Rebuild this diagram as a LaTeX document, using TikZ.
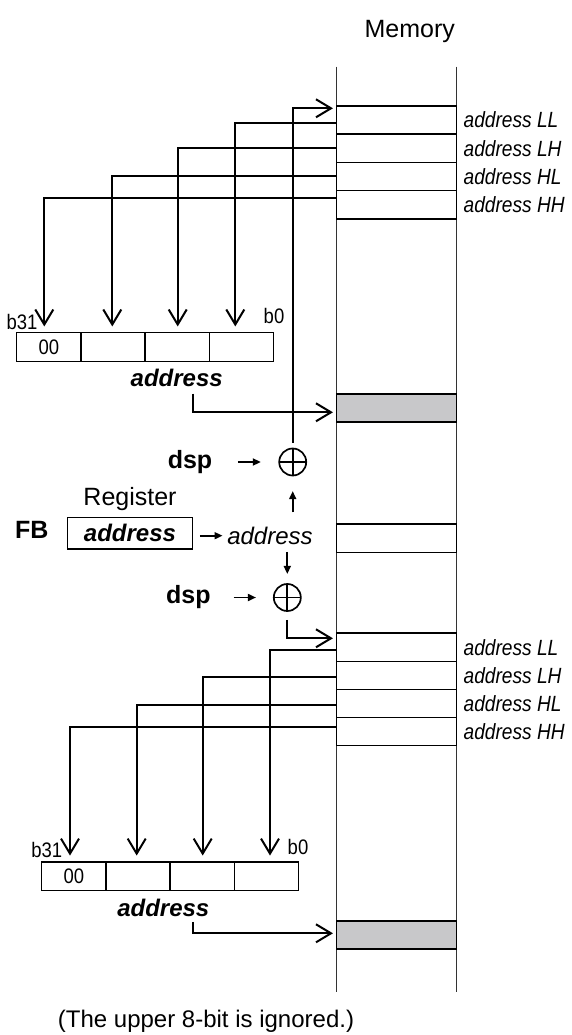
\documentclass[tikz,border=0pt]{standalone}
\usepackage{fontspec}
\setmainfont{Liberation Sans}
\usetikzlibrary{arrows.meta, positioning}

\definecolor{cellgrey}{RGB}{200,200,202}

\tikzset{
  colline/.style={line width=1.3pt, black!80},
  memcell/.style={draw, line width=1.5pt, minimum width=120pt, minimum height=28.2pt, inner sep=0pt},
  greycell/.style={memcell, fill=cellgrey},
  memlab/.style={inner sep=0pt, font=\fontsize{22}{26}\selectfont\itshape\addfontfeature{FakeStretch=0.87}},
  regcell/.style={draw, line width=1.3pt, minimum width=64.2pt, minimum height=28.6pt, inner sep=0pt,
    font=\fontsize{21}{25}\selectfont\addfontfeature{FakeStretch=0.88}},
  bitlab/.style={inner sep=0pt, font=\fontsize{21}{25}\selectfont\addfontfeature{FakeStretch=0.88}},
  plain/.style={inner sep=0pt, font=\fontsize{25}{30}\selectfont},
  boldlab/.style={inner sep=0pt, font=\fontsize{25}{30}\selectfont\bfseries},
  addrbold/.style={inner sep=0pt, font=\fontsize{24}{28}\selectfont\bfseries\itshape},
  addrital/.style={inner sep=0pt, font=\fontsize{24}{28}\selectfont\itshape},
  adder/.style={circle, draw, line width=1.7pt, minimum size=27pt, inner sep=0pt,
    path picture={\draw[line width=1.7pt] (path picture bounding box.north) -- (path picture bounding box.south)
      (path picture bounding box.west) -- (path picture bounding box.east);}},
  fetch/.style={line width=2pt, -{Straight Barb[length=15pt,width=18pt]}},
  tinyarrow/.style={line width=1.7pt, -{Triangle[length=8pt,width=7pt]}}
}

\begin{document}
\begin{tikzpicture}[x=1pt, y=-1pt]
    \useasboundingbox (0,0) rectangle (572,1035);

    % Memory column
    \node[plain] (memtitle) at (409.7,31.7) {Memory};
    \draw[colline] (336.7,66.7) -- (336.7,992);
    \draw[colline] (456.7,66.7) -- (456.7,992);

    % Memory cells, upper group
    \node[memcell] (mLLa) at (396.7,120) {};
    \node[memcell] (mLHa) at (396.7,148.2) {};
    \node[memcell] (mHLa) at (396.7,176.5) {};
    \node[memcell] (mHHa) at (396.7,204.8) {};
    \node[memlab, right=6pt of mLLa] (tLLa) {address LL};
    \node[memlab, right=6pt of mLHa] (tLHa) {address LH};
    \node[memlab, right=6pt of mHLa] (tHLa) {address HL};
    \node[memlab, right=6pt of mHHa] (tHHa) {address HH};
    \node[greycell] (gA) at (396.7,408) {};

    % Memory cell pointed to by FB
    \node[memcell] (mMid) at (396.7,538.3) {};

    % Memory cells, lower group
    \node[memcell] (mLLb) at (396.7,647.3) {};
    \node[memcell] (mLHb) at (396.7,675.4) {};
    \node[memcell] (mHLb) at (396.7,703.5) {};
    \node[memcell] (mHHb) at (396.7,731.6) {};
    \node[memlab, right=6pt of mLLb] (tLLb) {address LL};
    \node[memlab, right=6pt of mLHb] (tLHb) {address LH};
    \node[memlab, right=6pt of mHLb] (tHLb) {address HL};
    \node[memlab, right=6pt of mHHb] (tHHb) {address HH};
    \node[greycell] (gB) at (396.7,935) {};

    % Upper register
    \node[regcell] (rA1) at (48.8,346.9) {00};
    \node[regcell] (rA2) at (112.9,346.9) {};
    \node[regcell] (rA3) at (177.1,346.9) {};
    \node[regcell] (rA4) at (241.3,346.9) {};
    \node[bitlab] (bA31) at (22,321.7) {b31};
    \node[bitlab] (bA0) at (274,316) {b0};
    \node[addrbold] (addrA) at (176.7,378) {address};

    % Bytes read into the upper register
    \draw[fetch, shorten >=5.5pt] ([yshift=-3.3pt]mLLa.west) -| ([xshift=-6pt]rA4.north);
    \draw[fetch, shorten >=5.5pt] (mLHa.west) -| ([xshift=0.6pt]rA3.north);
    \draw[fetch, shorten >=5.5pt] (mHLa.west) -| ([xshift=-0.6pt]rA2.north);
    \draw[fetch, shorten >=5.5pt] ([yshift=6.8pt]mHHa.west) -| ([xshift=-4.5pt]rA1.north);
    \draw[fetch, shorten <=6.5pt, shorten >=3pt] ([xshift=16.6pt]addrA.south) |- ([yshift=-4.3pt]gA.west);

    % Frame base register and displacements
    \node[adder] (plusA) at (292.7,462) {};
    \node[boldlab] (dspA) at (190,462) {dsp};
    \node[plain] (regtitle) at (130,499) {Register};
    \node[boldlab] (fbname) at (31.7,530) {FB};
    \node[draw, line width=1.3pt, minimum width=124.6pt, minimum height=31.3pt, addrbold] (regFB) at (130,533.3) {address};
    \node[addrital] (addrM) at (270,535.7) {address};
    \node[adder] (plusB) at (287.3,597.5) {};
    \node[boldlab] (dspB) at (188.3,597.5) {dsp};

    \draw[tinyarrow, shorten <=25.5pt, shorten >=17.5pt] (dspA.east) -- (plusA.west);
    \draw[tinyarrow, shorten <=22.8pt, shorten >=17pt] (dspB.east) -- (plusB.west);
    \draw[tinyarrow, shorten <=7pt, shorten >=4.6pt] (regFB.east |- addrM.west) -- (addrM.west);
    \draw[tinyarrow, shorten <=14.3pt, shorten >=14.8pt] (plusA.south |- addrM.north) -- (plusA.south);
    \draw[tinyarrow, shorten <=7.2pt, shorten >=9.2pt] (plusB.north |- addrM.south) -- (plusB.north);

    % Effective addresses into memory
    \draw[fetch, shorten <=4.9pt, shorten >=3pt] (plusA.north) |- ([yshift=11.7pt]mLLa.west);
    \draw[fetch, shorten <=8pt, shorten >=3pt] (plusB.south) |- ([yshift=9pt]mLLb.west);

    % Lower register
    \node[regcell] (rB1) at (73.8,876.2) {00};
    \node[regcell] (rB2) at (138,876.2) {};
    \node[regcell] (rB3) at (202.2,876.2) {};
    \node[regcell] (rB4) at (266.4,876.2) {};
    \node[bitlab] (bB31) at (46.7,850) {b31};
    \node[bitlab] (bB0) at (298,846.7) {b0};
    \node[addrbold] (addrB) at (163.3,908.3) {address};

    % Bytes read into the lower register
    \draw[fetch, shorten >=5.7pt] ([yshift=-2.7pt]mLLb.west) -| ([xshift=3.6pt]rB4.north);
    \draw[fetch, shorten >=5.7pt] ([yshift=-2pt]mLHb.west) -| ([xshift=0.5pt]rB3.north);
    \draw[fetch, shorten >=5.7pt] ([yshift=-1.7pt]mHLb.west) -| ([xshift=-1.3pt]rB2.north);
    \draw[fetch, shorten >=5.7pt] ([yshift=4.3pt]mHHb.west) -| ([xshift=-3.8pt]rB1.north);
    \draw[fetch, shorten <=4.6pt, shorten >=3pt] ([xshift=29.4pt]addrB.south) |- ([yshift=1.7pt]gB.west);

    % Note
    \node[plain, font=\fontsize{24}{28}\selectfont] (note) at (206,1021) {(The upper 8-bit is ignored.)};

\end{tikzpicture}
\end{document}
